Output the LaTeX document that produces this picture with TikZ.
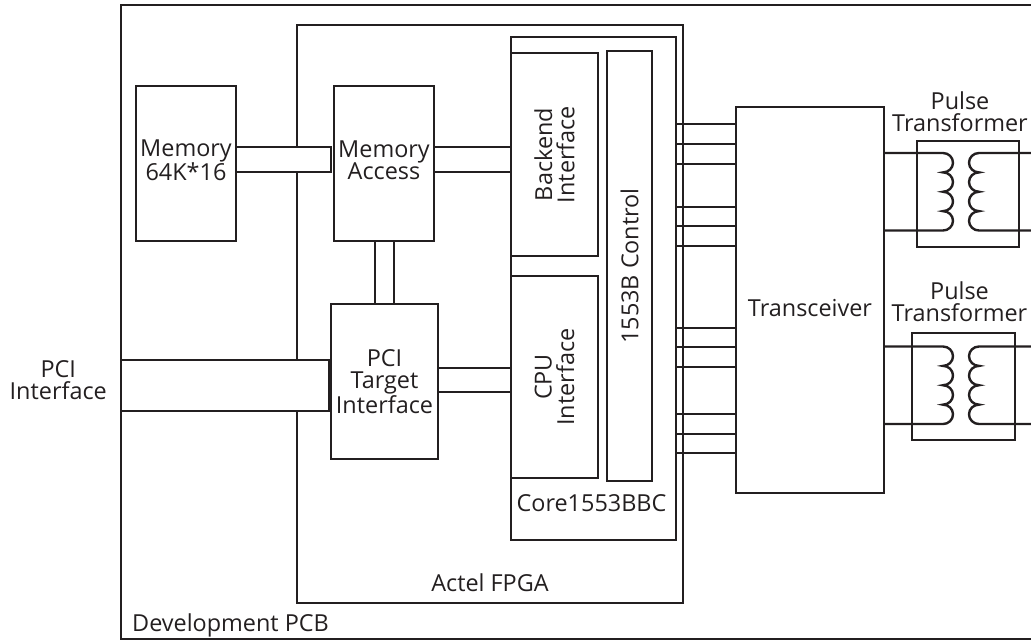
\documentclass[tikz,border=0pt]{standalone}
\usepackage{fontspec}
\setmainfont{Open Sans}
\usetikzlibrary{calc}
\definecolor{ink}{RGB}{35,31,32}
\tikzset{
    blk/.style={draw, outer sep=0pt, inner sep=0pt, anchor=north west},
    lbl/.style={inner sep=0pt, align=center},
}
\begin{document}
\begin{tikzpicture}[x=1bp, y=-1bp, line width=2.4bp, color=ink,
        font=\fontsize{23.5}{22.5}\selectfont]
    \path[use as bounding box, clip] (0,0) rectangle (1031,642);
    % board, fpga and core
    \node[blk, minimum width=924bp, minimum height=634bp] (pcb) at (121,5) {};
    \node[blk, minimum width=386bp, minimum height=578bp] (fpga) at (297,25) {};
    \node[blk, minimum width=165bp, minimum height=503bp] (core) at (511,37) {};
    \node[blk, minimum width=87bp, minimum height=203bp] (backend) at (511,53) {};
    \node[blk, minimum width=87bp, minimum height=202bp] (cpu) at (511,276) {};
    \node[blk, minimum width=45bp, minimum height=430bp] (ctrl) at (607,51) {};
    \node[blk, minimum width=148bp, minimum height=386bp] (xcvr) at (736,107) {};
    \node[blk, minimum width=100bp, minimum height=155bp] (mem) at (136,86) {};
    \node[blk, minimum width=100bp, minimum height=155bp] (memacc) at (334,86) {};
    \node[blk, minimum width=107bp, minimum height=155bp] (pcit) at (331,304) {};
    \node[blk, minimum width=102bp, minimum height=106bp] (tr1) at (917,141) {};
    \node[blk, minimum width=103bp, minimum height=107bp] (tr2) at (912,333) {};

    % labels
    \node[lbl, anchor=base west] (pcblbl) at ($(pcb.south west)+(10,-8)$) {Development PCB};
    \node[lbl, anchor=base] (fpgalbl) at ($(fpga.south)+(0,-12)$) {Actel FPGA};
    \node[lbl, anchor=base] (corelbl) at ($(core.south)+(-2,-29)$) {Core1553BBC};
    \node[lbl, rotate=90] (backendlbl) at (backend.center) {Backend\\Interface};
    \node[lbl, rotate=90] (cpulbl) at (cpu.center) {CPU\\Interface};
    \node[lbl, rotate=90] (ctrllbl) at (ctrl.center) {1553B Control};
    \node[lbl] (xcvrlbl) at ($(xcvr.center)+(0,8)$) {Transceiver};
    \node[lbl] (memlbl) at ($(mem.center)+(0,-3)$) {Memory\\64K*16};
    \node[lbl] (memacclbl) at ($(memacc.center)+(0,-3)$) {Memory\\Access};
    \node[lbl] (pcitlbl) at (pcit.center) {PCI\\Target\\Interface};
    \node[lbl, anchor=east] (pcilbl) at ($(pcb.west |- 0,380)+(-13,0)$) {PCI\\Interface};
    \node[lbl, anchor=south] (tr1lbl) at ($(tr1.north)+(-8,-8)$) {Pulse\\Transformer};
    \node[lbl, anchor=south] (tr2lbl) at ($(tr2.north)+(-4,-10)$) {Pulse\\Transformer};

    % buses
    \draw[fill=white] (mem.east |- 0,147) rectangle ($(memacc.west |- 0,172)+(-3,0)$);
    \draw[fill=white] (pcb.west |- 0,360) rectangle ($(pcit.west |- 0,411)+(-2,0)$);
    \foreach \y in {147,172}
        \draw (memacc.east |- 0,\y) -- (backend.west |- 0,\y);
    \foreach \x in {375,394}
        \draw (memacc.south -| \x,0) -- (pcit.north -| \x,0);
    \foreach \y in {368,392}
        \draw (pcit.east |- 0,\y) -- (cpu.west |- 0,\y);
    \foreach \y in {124,144,164,207,226,246,328,347,367,414,434,453}
        \draw (core.east |- 0,\y) -- (xcvr.west |- 0,\y);

    % transformer windings
    \foreach \ya in {153,346.5} {
        \draw (xcvr.east |- 0,\ya) -- (943,\ya)
            \foreach \k in {1,...,4} {arc[start angle=-90, end angle=90, x radius=10, y radius=9.69]}
            -- (xcvr.east |- 0,\ya+77.5);
        \draw (pcb.east |- 0,\ya) -- (979,\ya)
            \foreach \k in {1,...,4} {arc[start angle=-90, end angle=-270, x radius=10, y radius=9.69]}
            -- (pcb.east |- 0,\ya+77.5);
    }
\end{tikzpicture}
\end{document}
